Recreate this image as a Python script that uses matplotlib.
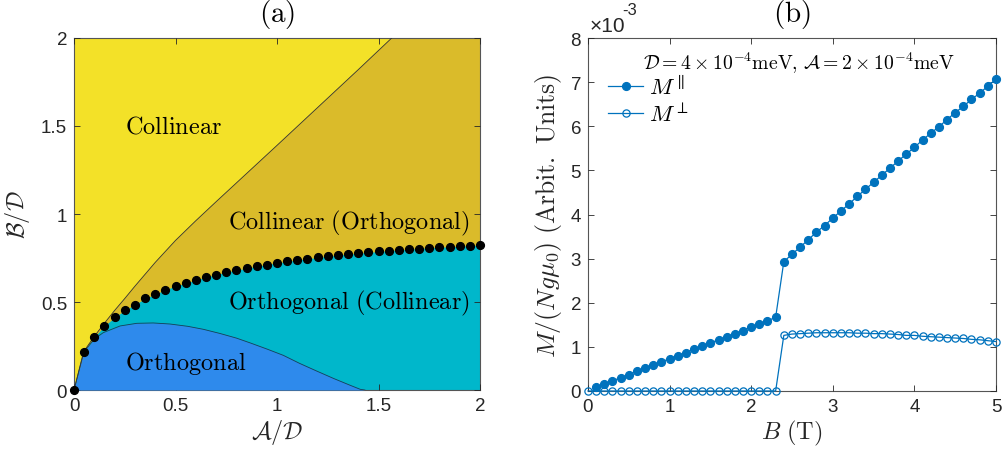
import numpy as np
import matplotlib
matplotlib.use("Agg")
import matplotlib.pyplot as plt

plt.rcParams['font.family'] = ['Liberation Sans', 'DejaVu Sans']
plt.rcParams['mathtext.fontset'] = 'cm'

# ---- panel (a): phase diagram ----
# boundary Collinear / Collinear (Orthogonal)
upper_x = [0, 0.05, 0.1, 0.15, 0.2, 0.25, 0.3, 0.4, 0.5, 0.6, 0.7, 0.85, 1.0, 1.2, 1.4, 1.565]
upper_y = [0, 0.222, 0.305, 0.38, 0.452, 0.52, 0.59, 0.725, 0.85, 0.962, 1.07, 1.23, 1.39, 1.605, 1.82, 2.0]

# dotted boundary (computed points)
dot_x = np.round(np.arange(0, 2.0001, 0.05), 2)
dot_y = [0, 0.218, 0.301, 0.364, 0.413, 0.453, 0.485, 0.52, 0.544, 0.57,
         0.59, 0.607, 0.625, 0.641, 0.656, 0.67, 0.681, 0.692, 0.703, 0.713,
         0.722, 0.731, 0.739, 0.746, 0.753, 0.76, 0.766, 0.772, 0.777, 0.782,
         0.787, 0.792, 0.796, 0.800, 0.804, 0.808, 0.811, 0.814, 0.817, 0.820, 0.823]

# boundary of pure Orthogonal region
low_x = [0, 0.046, 0.1, 0.144, 0.227, 0.309, 0.39, 0.473, 0.56, 0.637, 0.72, 0.80,
         0.867, 0.95, 1.031, 1.11, 1.195, 1.28, 1.36, 1.41, 1.433]
low_y = [0, 0.213, 0.29, 0.326, 0.364, 0.379, 0.381, 0.375, 0.362, 0.345, 0.321, 0.295,
         0.268, 0.233, 0.197, 0.152, 0.108, 0.065, 0.027, 0.004, 0]

col_yellow = '#F3E128'
col_gold = '#DABB2A'
col_cyan = '#00B7CB'
col_blue = '#2E8AEC'

# ---- panel (b): magnetisation (units of 1e-3) ----
B_par = np.round(np.arange(0.1, 5.0001, 0.1), 1)
M_par = [0.08, 0.15, 0.23, 0.30, 0.37, 0.45, 0.52, 0.59, 0.66, 0.73,
         0.80, 0.87, 0.95, 1.02, 1.09, 1.16, 1.23, 1.30, 1.37, 1.45,
         1.52, 1.59, 1.67,
         2.93, 3.10, 3.26, 3.43, 3.60, 3.75, 3.92, 4.08, 4.24, 4.41,
         4.57, 4.73, 4.89, 5.05, 5.21, 5.37, 5.52, 5.69, 5.84, 5.99,
         6.15, 6.31, 6.45, 6.61, 6.75, 6.91, 7.07]
B_perp = np.round(np.arange(0, 5.0001, 0.1), 1)
M_perp = [0] * 24 + [1.26, 1.29, 1.30, 1.31, 1.32, 1.32, 1.32, 1.32, 1.32, 1.31,
                     1.31, 1.30, 1.30, 1.29, 1.28, 1.26, 1.26, 1.24, 1.23, 1.22,
                     1.21, 1.20, 1.19, 1.17, 1.16, 1.14, 1.12]

mblue = '#0072BD'
txtc = '#262626'

fig = plt.figure(figsize=(10.03, 4.56), dpi=100)
ax1 = fig.add_axes([0.0738, 0.1425, 0.4048, 0.772])
ax2 = fig.add_axes([0.5862, 0.1404, 0.4068, 0.774])

# panel (a)
ax1.set_facecolor(col_yellow)
gx = list(upper_x) + [2, 2, 0]
gy = list(upper_y) + [2, 0, 0]
ax1.fill(gx, gy, color=col_gold, lw=0, zorder=1)
ax1.fill_between(dot_x, 0, dot_y, color=col_cyan, lw=0, zorder=2)
ax1.fill_between(low_x, 0, low_y, color=col_blue, lw=0, zorder=3)
ax1.plot(upper_x, upper_y, color='#333333', lw=0.6, zorder=4)
ax1.plot(low_x, low_y, color='#1a3a5a', lw=0.6, zorder=4)
ax1.plot(dot_x, dot_y, 'o', color='black', ms=5.6, zorder=6, clip_on=False)

ax1.text(0.25, 1.463, r'$\mathrm{Collinear}$', fontsize=17.5, color='black')
ax1.text(0.757, 0.917, r'$\mathrm{Collinear\ (Orthogonal)}$', fontsize=17.5, color='black')
ax1.text(0.757, 0.463, r'$\mathrm{Orthogonal\ (Collinear)}$', fontsize=17.5, color='black')
ax1.text(0.25, 0.118, r'$\mathrm{Orthogonal}$', fontsize=17.5, color='black')

ax1.set_xlim(0, 2)
ax1.set_ylim(0, 2)
ax1.set_xticks([0, 0.5, 1, 1.5, 2])
ax1.set_xticklabels(['0', '0.5', '1', '1.5', '2'])
ax1.set_yticks([0, 0.5, 1, 1.5, 2])
ax1.set_yticklabels(['0', '0.5', '1', '1.5', '2'])
ax1.set_xlabel(r'$\mathcal{A}/\mathcal{D}$', fontsize=17.5, color=txtc, labelpad=2)
ax1.set_ylabel(r'$\mathcal{B}/\mathcal{D}$', fontsize=17.5, color=txtc, labelpad=6)
ax1.set_title(r'$\mathrm{(a)}$', fontsize=21, color='black', pad=12)

# panel (b)
ax2.plot(B_par, M_par, '-o', color=mblue, lw=0.9, ms=5.6, mfc=mblue,
         mec=mblue, label=r'$M^{\parallel}$', clip_on=False, zorder=4)
ax2.plot(B_perp, M_perp, '-o', color=mblue, lw=0.9, ms=5.2, mfc='none',
         mec=mblue, mew=0.9, label=r'$M^{\perp}$', clip_on=False, zorder=5)
ax2.set_xlim(0, 5)
ax2.set_ylim(0, 8)
ax2.set_xticks(range(6))
ax2.set_yticks(range(9))
ax2.set_xlabel(r'$B\ \mathrm{(T)}$', fontsize=17.5, color=txtc, labelpad=2)
ax2.set_ylabel(r'$M/(Ng\mu_0)\ \mathrm{(Arbit.\ Units)}$', fontsize=18.5,
               color=txtc, labelpad=5)
ax2.set_title(r'$\mathrm{(b)}$', fontsize=21, color='black', pad=12)
ax2.text(0.675, 7.29,
         r'$\mathcal{D}=4\times10^{-4}\mathrm{meV},\,\mathcal{A}=2\times10^{-4}\mathrm{meV}$',
         fontsize=14.2, color='black')
ax2.legend(loc='upper left', bbox_to_anchor=(0.015, 0.935), frameon=False,
           fontsize=16.5, handlelength=1.55, handletextpad=0.25, labelspacing=0.15,
           borderaxespad=0.2)
ax2.text(0.005, 1.01, '×10', transform=ax2.transAxes, fontsize=15,
         color=txtc, ha='left', va='bottom')
ax2.text(0.085, 1.06, '-3', transform=ax2.transAxes, fontsize=12,
         color=txtc, ha='left', va='bottom')

for ax in (ax1, ax2):
    ax.tick_params(direction='in', top=True, right=True, length=4,
                   width=0.6, labelsize=13.5, colors=txtc, pad=5)
    for s in ax.spines.values():
        s.set_color('#555555')
        s.set_linewidth(0.8)
    ax.set_axisbelow(False)

fig.savefig('out.png', dpi=100)
